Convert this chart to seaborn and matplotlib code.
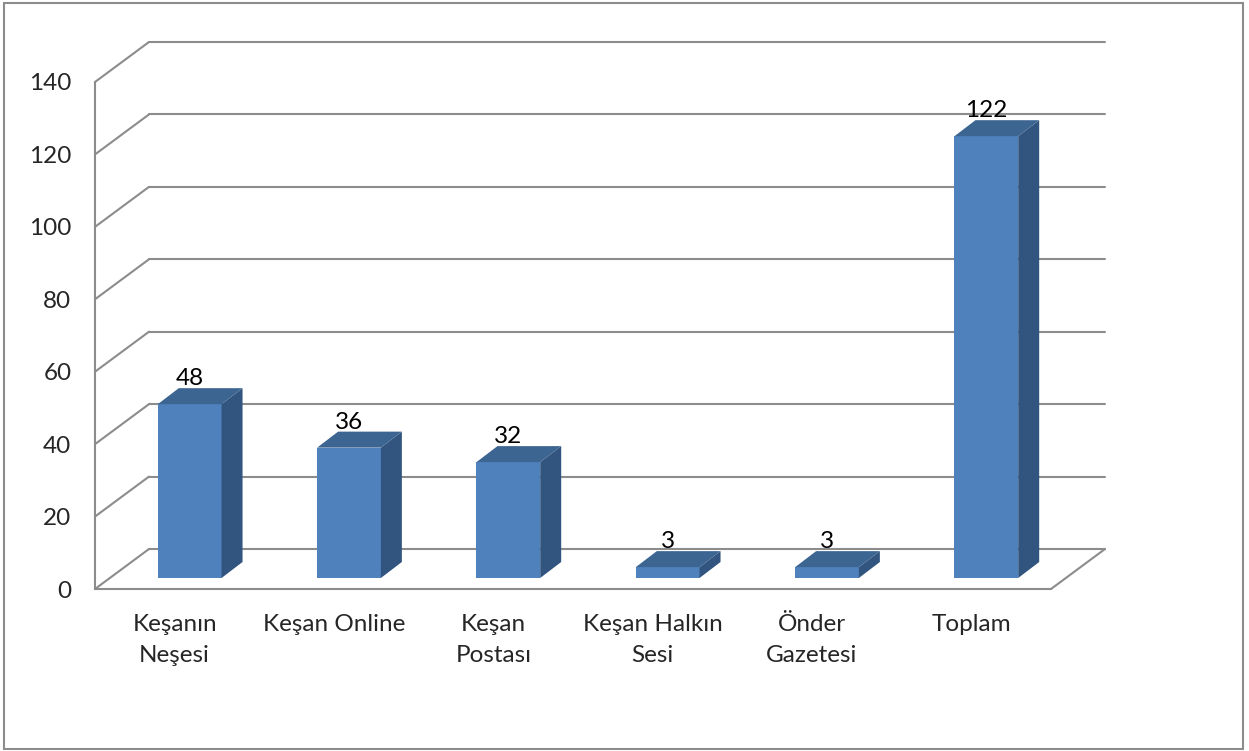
import matplotlib
matplotlib.use('Agg')
import matplotlib.pyplot as plt
import seaborn as sns
from matplotlib.patches import Polygon, Rectangle
from matplotlib.transforms import Affine2D

# veriler
categories = ['Keşanın\nNeşesi', 'Keşan Online', 'Keşan\nPostası', 'Keşan Halkın\nSesi', 'Önder\nGazetesi', 'Toplam']
values = [48, 36, 32, 3, 3, 122]
y_ticks = [0, 20, 40, 60, 80, 100, 120, 140]

FRONT = '#4F81BD'
TOP = '#3C6591'
SIDE = '#31557F'
GRID = '#8C8C8C'
FS = 17.5

sns.set_style('white')
plt.rcParams['font.family'] = ['Lato', 'DejaVu Sans']

fig = plt.figure(figsize=(12.49, 7.51), dpi=100)
W, H = 1249, 751
ax = fig.add_axes([95 / W, (H - 589) / H, 956 / W, 507 / H])

# derinlik ofsetleri (veri birimi)
px_x = 956 / 6
px_y = 507 / 140
depth_x, depth_y = 54 / px_x, 40 / px_y        # arka duvar
front_x, front_y = 15 / px_x, 11 / px_y        # bar on yuzu
bar_dx, bar_dy = 21 / px_x, 16 / px_y          # bar derinligi

sns.barplot(x=categories, y=values, width=0.4, color=FRONT, saturation=1,
            linewidth=0, ax=ax, zorder=3)
ax.set_xlim(-0.5, 5.5)
ax.set_ylim(0, 140)

# arka duvar ve sol duvar cizgileri
for t in y_ticks:
    ax.plot([-0.5 + depth_x, 5.5 + depth_x], [t + depth_y, t + depth_y],
            color=GRID, lw=1.5, clip_on=False, zorder=1)
    ax.plot([-0.5, -0.5 + depth_x], [t, t + depth_y],
            color=GRID, lw=1.5, clip_on=False, zorder=1)
ax.plot([5.5, 5.5 + depth_x], [0, depth_y], color=GRID, lw=1.5, clip_on=False, zorder=1)

# 3B barlar
shift = Affine2D().translate(front_x, front_y) + ax.transData
for patch, val in zip(list(ax.patches), values):
    x0 = patch.get_x()
    x1 = x0 + patch.get_width()
    h = patch.get_height()
    patch.set_transform(shift)
    side = Polygon([(x1, 0), (x1 + bar_dx, bar_dy), (x1 + bar_dx, h + bar_dy), (x1, h)],
                   closed=True, facecolor=SIDE, edgecolor='none', transform=shift, zorder=3)
    top = Polygon([(x0, h), (x1, h), (x1 + bar_dx, h + bar_dy), (x0 + bar_dx, h + bar_dy)],
                  closed=True, facecolor=TOP, edgecolor='none', transform=shift, zorder=3)
    ax.add_patch(side)
    ax.add_patch(top)
    ax.text((x0 + x1) / 2 + front_x, val + front_y + bar_dy + 0.8, str(val),
            ha='center', va='baseline', fontsize=FS, color='black', zorder=5)

# eksenler
for s in ['top', 'right']:
    ax.spines[s].set_visible(False)
for s in ['left', 'bottom']:
    ax.spines[s].set_color(GRID)
    ax.spines[s].set_linewidth(1.5)
ax.set_yticks(y_ticks)
ax.tick_params(axis='y', length=5, width=1.5, color=GRID, pad=12, labelsize=FS)
ax.set_xticks(range(len(categories)))
ax.set_xticklabels(categories, fontsize=FS, linespacing=1.6)
ax.tick_params(axis='x', which='major', length=0, pad=18)
ax.set_xticks([i - 0.5 for i in range(len(categories) + 1)], minor=True)
ax.tick_params(axis='x', which='minor', length=7, width=1.5, color=GRID, direction='out')
ax.set_xlabel('')
ax.set_ylabel('')

# cerceve
fig.add_artist(Rectangle((4 / W, 2 / H), 1239 / W, 746 / H, transform=fig.transFigure,
                         fill=False, edgecolor=GRID, lw=1.5))

fig.savefig('out.png', dpi=100)
